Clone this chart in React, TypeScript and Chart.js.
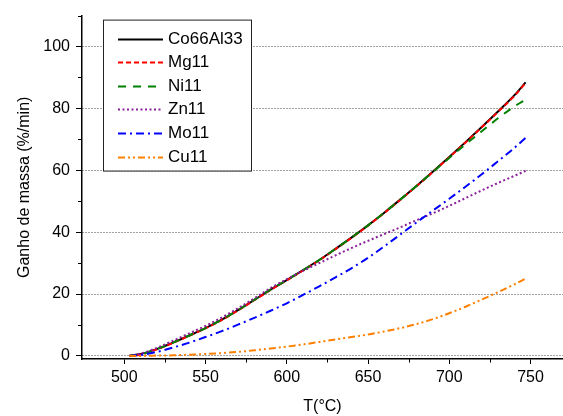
import React, { useEffect, useRef } from "react";
import { Chart, registerables } from "chart.js";

Chart.register(...registerables);

// ---- data ----
const temperatures = [503, 510, 520, 530, 540, 550, 560, 570, 580, 590, 600, 610, 620, 630, 640, 650, 660, 670, 680, 690, 700, 710, 720, 730, 740, 747];
const co66Al33 = [0, 0.6, 2.2, 4.3, 6.6, 9.0, 11.7, 14.8, 18.1, 21.4, 24.5, 27.7, 31.0, 34.6, 38.3, 42.2, 46.3, 50.6, 55.0, 59.6, 64.3, 69.1, 74.0, 79.0, 84.2, 88.4];
const mg11 = [0, 0.4, 2.1, 4.2, 6.5, 8.9, 11.6, 14.7, 18.0, 21.3, 24.4, 27.6, 30.9, 34.5, 38.2, 42.1, 46.2, 50.5, 54.9, 59.5, 64.2, 69.0, 73.9, 78.9, 84.0, 88.2];
const ni11 = [0, 0.5, 2.2, 4.3, 6.6, 9.0, 11.7, 14.8, 18.1, 21.4, 24.5, 27.7, 31.0, 34.6, 38.3, 42.2, 46.3, 50.6, 55.0, 59.5, 64.0, 68.4, 72.6, 76.8, 80.6, 82.8];
const zn11 = [0, 0.7, 2.6, 4.9, 7.3, 9.7, 12.4, 15.4, 18.6, 21.9, 24.8, 27.5, 30.0, 32.5, 34.9, 37.2, 39.4, 41.6, 43.9, 46.1, 48.5, 51.0, 53.5, 55.9, 58.2, 59.8];
const mo11 = [0, 0.3, 1.3, 2.7, 4.3, 6.1, 8.0, 10.1, 12.3, 14.6, 17.0, 19.7, 22.5, 25.4, 28.4, 31.7, 35.4, 39.3, 43.2, 47.0, 50.8, 54.7, 58.7, 62.9, 67.2, 70.5];
const cu11 = [0, 0, 0.1, 0.2, 0.4, 0.6, 0.9, 1.3, 1.8, 2.4, 3.0, 3.7, 4.5, 5.3, 6.1, 6.9, 7.9, 9.0, 10.3, 11.9, 13.8, 15.9, 18.2, 20.6, 23.1, 25.0];

const seriesLabels = ["Co66Al33", "Mg11", "Ni11", "Zn11", "Mo11", "Cu11"];
const xMajorTicks = [500, 550, 600, 650, 700, 750];
const xMinorTicks = [525, 575, 625, 675, 725];
const yMajorTicks = [0, 20, 40, 60, 80, 100];
const yMinorTicks = [10, 30, 50, 70, 90, 110];

const FONT = '"Liberation Sans", Arial, Helvetica, sans-serif';

const toPoints = (vals: number[]) => temperatures.map((t, i) => ({ x: t, y: vals[i] }));

const styles = [
  { color: "#000000", dash: [] as number[], width: 2 },
  { color: "#ff0000", dash: [5, 3], width: 2 },
  { color: "#008000", dash: [8, 7], width: 2 },
  { color: "#8a1f9a", dash: [2, 2.5], width: 2 },
  { color: "#0000ff", dash: [8, 4, 2, 4], width: 2 },
  { color: "#ff8000", dash: [7, 3, 2, 3, 2, 3], width: 2 },
];
const seriesValues = [co66Al33, mg11, ni11, zn11, mo11, cu11];

const boxLegend = {
  id: "boxLegend",
  afterDatasetsDraw(chart: any) {
    const { ctx, chartArea } = chart;
    const x0 = chartArea.left + 21;
    const y0 = chartArea.top + 4;
    const w = 148;
    const h = 151;
    ctx.save();
    ctx.fillStyle = "#ffffff";
    ctx.fillRect(x0, y0, w, h);
    ctx.strokeStyle = "#222222";
    ctx.lineWidth = 1;
    ctx.setLineDash([]);
    ctx.strokeRect(x0 + 0.5, y0 + 0.5, w, h);
    chart.data.datasets.forEach((ds: any, i: number) => {
      const y = Math.round(y0 + 19 + i * 23.6) + 0.5;
      ctx.beginPath();
      ctx.setLineDash(ds.borderDash || []);
      ctx.strokeStyle = ds.borderColor;
      ctx.lineWidth = ds.borderWidth;
      ctx.moveTo(x0 + 15, y);
      ctx.lineTo(x0 + 60, y);
      ctx.stroke();
      ctx.setLineDash([]);
      ctx.fillStyle = "#000000";
      ctx.font = `17px ${FONT}`;
      ctx.textBaseline = "middle";
      ctx.textAlign = "left";
      ctx.fillText(ds.label, x0 + 65, y);
    });
    ctx.restore();
  },
};

const minorTicks = {
  id: "minorTicks",
  afterDraw(chart: any) {
    const { ctx } = chart;
    const xs = chart.scales.x;
    const ys = chart.scales.y;
    ctx.save();
    ctx.strokeStyle = "#000000";
    ctx.lineWidth = 1;
    ctx.setLineDash([]);
    ctx.beginPath();
    xMinorTicks.forEach((v) => {
      const px = Math.round(xs.getPixelForValue(v)) + 0.5;
      ctx.moveTo(px, xs.top);
      ctx.lineTo(px, xs.top + 3.5);
    });
    yMinorTicks.forEach((v) => {
      const py = Math.round(ys.getPixelForValue(v)) + 0.5;
      ctx.moveTo(ys.right - 4, py);
      ctx.lineTo(ys.right, py);
    });
    ctx.stroke();
    ctx.restore();
  },
};

export default function App() {
  const ref = useRef<HTMLCanvasElement>(null);
  useEffect(() => {
    document.body.style.margin = "0";
    const datasets = seriesLabels.map((label, i) => ({
      label,
      data: toPoints(seriesValues[i]),
      borderColor: styles[i].color,
      backgroundColor: styles[i].color,
      borderDash: styles[i].dash,
      borderWidth: styles[i].width,
      pointRadius: 0,
      fill: false,
      cubicInterpolationMode: "monotone" as const,
      order: seriesLabels.length - i,
    }));
    const chart = new Chart(ref.current!, {
      type: "line",
      data: { datasets },
      plugins: [boxLegend, minorTicks],
      options: {
        animation: false,
        responsive: false,
        devicePixelRatio: 1,
        layout: { padding: { top: 14, left: 0, right: 0, bottom: 0 } },
        plugins: { legend: { display: false }, tooltip: { enabled: false } },
        scales: {
          x: {
            type: "linear",
            min: 474,
            max: 770,
            afterFit: (s: any) => { s.height = 57; },
            afterBuildTicks: (s: any) => { s.ticks = xMajorTicks.map((v) => ({ value: v })); },
            ticks: { color: "#000", font: { family: FONT, size: 16 }, padding: 4, maxRotation: 0 },
            grid: { drawOnChartArea: false, drawTicks: true, tickLength: 5, tickColor: "#000", tickWidth: 1 },
            border: { display: true, color: "#000", width: 1.5 },
            title: { display: true, text: "T(°C)", color: "#000", font: { family: FONT, size: 16 }, padding: { top: 0, bottom: 0 } },
          },
          y: {
            type: "linear",
            min: -1,
            max: 110,
            afterFit: (s: any) => { s.width = 82; },
            afterBuildTicks: (s: any) => { s.ticks = yMajorTicks.map((v) => ({ value: v })); },
            ticks: { color: "#000", font: { family: FONT, size: 16 }, padding: 6 },
            grid: { drawOnChartArea: true, drawTicks: true, tickLength: 6, color: "#444", lineWidth: 1, tickColor: "#000", tickWidth: 1, tickBorderDash: [] },
            border: { display: true, color: "#000", width: 1.5, dash: [1, 2] },
            title: { display: true, text: "Ganho de massa (%/min)", color: "#000", font: { family: FONT, size: 16 }, padding: { top: 15, bottom: 0 } },
          },
        },
      } as any,
    });
    return () => chart.destroy();
  }, []);
  return (
    <div style={{ width: 563, height: 416 }}>
      <canvas ref={ref} width={563} height={416} style={{ display: "block" }} />
    </div>
  );
}
